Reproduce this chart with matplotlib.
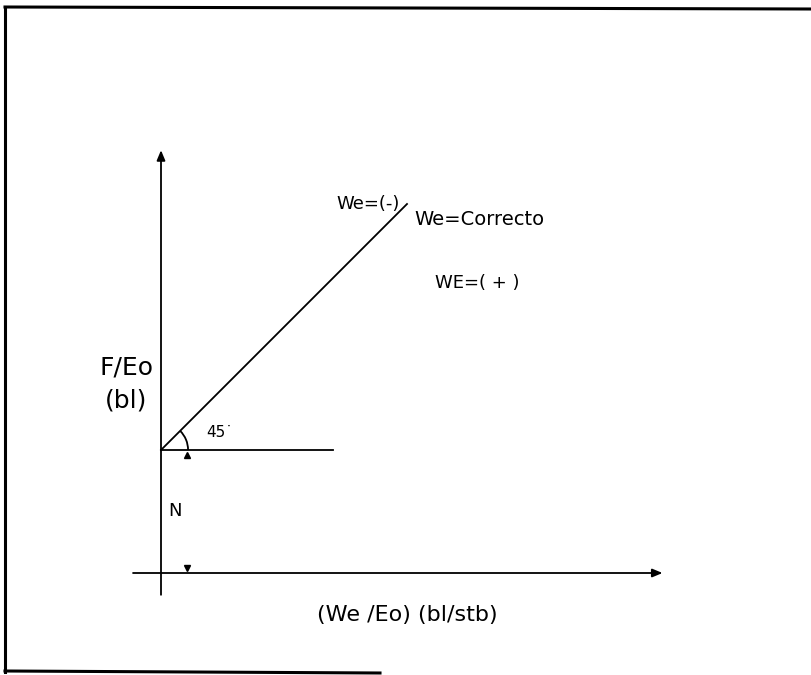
import numpy as np
import matplotlib.pyplot as plt
from matplotlib.patches import Arc
from matplotlib.lines import Line2D

plt.rcParams['font.family'] = ['DejaVu Sans']

# Esquema del método de Havlena-Odeh: F/Eo vs We/Eo
N = 1.0                      # intercepto (petróleo original in situ)
pendiente = 1.0              # recta a 45 grados
x_recta = [0.0, 2.0]         # tramo dibujado de la recta We=Correcto
x_horizontal = [0.0, 1.4]    # línea de referencia a la altura N
eje_x = [-0.25, 4.1]
eje_y = [-0.2, 3.46]
angulo = 45

etiquetas = {
    'neg': 'We=(-)',
    'ok': 'We=Correcto',
    'pos': 'WE=( + )',
}

escala = 123.0               # px por unidad
origen = (161, 573)          # posición del origen en px
W, H = 811, 675

fig = plt.figure(figsize=(W / 100, H / 100), dpi=100)
ax = fig.add_axes([0, 0, 1, 1])
ax.set_xlim(-origen[0] / escala, (W - origen[0]) / escala)
ax.set_ylim(-(H - origen[1]) / escala, origen[1] / escala)
ax.set_aspect('equal')
ax.axis('off')

# ejes con flecha
ax.annotate('', xy=(eje_x[1], 0), xytext=(eje_x[0], 0),
            arrowprops=dict(arrowstyle='-|>,head_length=0.6,head_width=0.25', color='black', lw=1.3))
ax.annotate('', xy=(0, eje_y[1]), xytext=(0, eje_y[0]),
            arrowprops=dict(arrowstyle='-|>,head_length=0.6,head_width=0.25', color='black', lw=1.3))

# línea horizontal y recta de 45°
ax.plot(x_horizontal, [N, N], color='black', lw=1.3)
xr = np.array(x_recta)
ax.plot(xr, N + pendiente * xr, color='black', lw=1.3)

# arco del ángulo
ax.add_patch(Arc((0, N), 0.44, 0.44, theta1=0, theta2=angulo, color='black', lw=1.3))
ax.text(0.37, N + 0.14, f'{angulo}˙', fontsize=11, va='center', ha='left')

# cotas de N
ax.plot([0.21], [N - 0.04], marker='^', color='black', markersize=5)
ax.plot([0.21], [0.04], marker='v', color='black', markersize=5)
ax.text(0.11, N / 2, 'N', fontsize=13, ha='center', va='center')

# textos de las regiones
ax.text(1.43, 3.0, etiquetas['neg'], fontsize=13, va='center', ha='left')
ax.text(x_recta[1] + 0.06, N + pendiente * x_recta[1] - 0.13, etiquetas['ok'], fontsize=14, va='center', ha='left')
ax.text(2.23, 2.36, etiquetas['pos'], fontsize=13, va='center', ha='left')

# títulos de los ejes
ax.text(-0.28, 1.67, 'F/Eo', fontsize=18, ha='center', va='center')
ax.text(-0.28, 1.40, '(bl)', fontsize=18, ha='center', va='center')
ax.text(2.0, -0.34, '(We /Eo) (bl/stb)', fontsize=16, ha='center', va='center')

# marco
fig.add_artist(Line2D([5 / W, 5 / W], [1 - 8 / H, 1 - 672 / H], color='black', lw=2.2))
fig.add_artist(Line2D([5 / W, 1.0], [1 - 7 / H, 1 - 9 / H], color='black', lw=2.2))
fig.add_artist(Line2D([5 / W, 380 / W], [1 - 671 / H, 1 - 673 / H], color='black', lw=2.2))

fig.savefig('out.png', dpi=100)
